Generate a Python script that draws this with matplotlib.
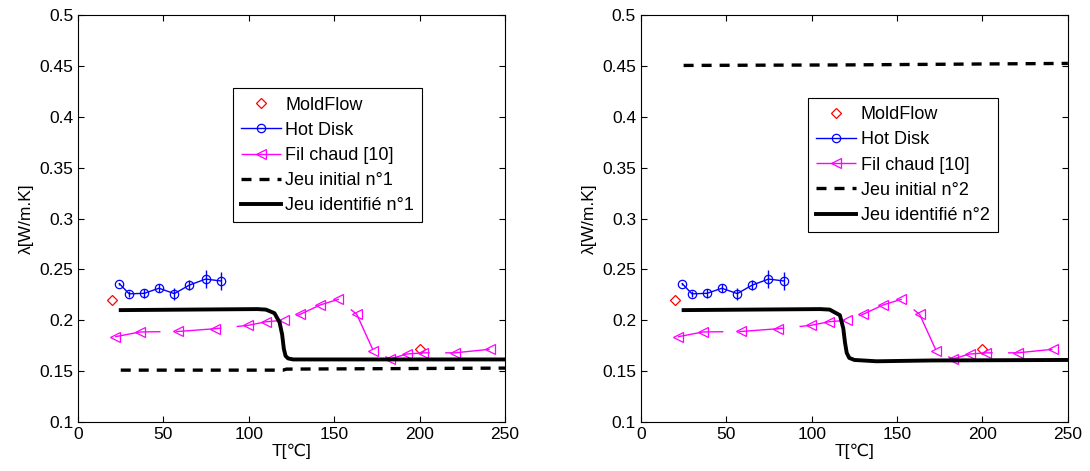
import matplotlib
matplotlib.use("Agg")
import matplotlib.pyplot as plt

plt.rcParams['font.family'] = ['Liberation Sans', 'DejaVu Sans']
plt.rcParams['font.size'] = 12

# data
T_mold = [20, 200]
lam_mold = [0.22, 0.1715]

T_hot = [24.2, 29.9, 38.8, 47.4, 56.4, 65.2, 74.7, 83.9]
lam_hot = [0.236, 0.226, 0.2265, 0.2315, 0.2262, 0.2346, 0.2405, 0.2386]
err_hot = [0.001, 0.003, 0.0045, 0.004, 0.006, 0.005, 0.009, 0.009]

T_fil = [21.7, 36.3, 58.7, 80.2, 99.5, 110.3, 120.6, 130, 141.7, 152.4,
         163.2, 172.9, 182.7, 192.4, 202.2, 220.7, 241]
lam_fil = [0.1838, 0.1885, 0.189, 0.1917, 0.195, 0.1986, 0.2, 0.2058, 0.215, 0.2206,
           0.2058, 0.170, 0.162, 0.1668, 0.168, 0.168, 0.1715]

T_ini1 = [25, 120, 122, 250]
lam_ini1 = [0.151, 0.151, 0.152, 0.153]
T_id1 = [25, 105, 110, 115, 118, 119.5, 120.5, 121.5, 123, 126, 250]
lam_id1 = [0.21, 0.211, 0.2105, 0.207, 0.198, 0.186, 0.172, 0.165, 0.1625, 0.1615, 0.1615]

T_ini2 = [25, 120, 250]
lam_ini2 = [0.4505, 0.451, 0.4525]
T_id2 = [25, 105, 110.5, 116.5, 118.5, 119.5, 120.5, 122, 125, 138, 170, 250]
lam_id2 = [0.21, 0.211, 0.2105, 0.205, 0.192, 0.178, 0.168, 0.163, 0.161, 0.1597, 0.1605, 0.161]

panels = [
    (T_ini1, lam_ini1, T_id1, lam_id1, 'n°1', (0.363, 0.491)),
    (T_ini2, lam_ini2, T_id2, lam_id2, 'n°2', (0.392, 0.467)),
]

fig = plt.figure(figsize=(10.9, 4.71), dpi=100)
axes = [fig.add_axes([0.0716, 0.104, 0.3917, 0.864]),
        fig.add_axes([0.588, 0.104, 0.3917, 0.864])]

for ax, (t_ini, l_ini, t_id, l_id, tag, leg_pos) in zip(axes, panels):
    ax.plot(T_mold, lam_mold, linestyle='none', marker='D', markersize=5,
            markerfacecolor='none', markeredgecolor='red', markeredgewidth=0.9,
            label='MoldFlow')
    ax.errorbar(T_hot, lam_hot, yerr=err_hot, fmt='none', ecolor='blue',
                elinewidth=1, capsize=0)
    ax.plot(T_hot, lam_hot, color='blue', linewidth=1, marker='o', markersize=6,
            markerfacecolor='none', markeredgewidth=0.9, label='Hot Disk')
    ax.plot(T_fil, lam_fil, color='magenta', linewidth=1, dashes=(33, 11),
            marker='<', markersize=7.5, markerfacecolor='none', markeredgewidth=0.9,
            label='Fil chaud [10]')
    ax.plot(t_ini, l_ini, color='black', linewidth=2.4, dashes=(3, 2.4),
            label='Jeu initial ' + tag)
    ax.plot(t_id, l_id, color='black', linewidth=2.8, solid_joinstyle='round',
            label='Jeu identifié ' + tag)

    ax.set_xlim(0, 250)
    ax.set_ylim(0.1, 0.5)
    ax.set_xticks([0, 50, 100, 150, 200, 250])
    ax.set_yticks([0.1, 0.15, 0.2, 0.25, 0.3, 0.35, 0.4, 0.45, 0.5])
    ax.set_yticklabels(['0.1', '0.15', '0.2', '0.25', '0.3', '0.35', '0.4', '0.45', '0.5'])
    ax.tick_params(direction='in', top=True, right=True, length=4, labelsize=12.5)
    ax.set_xlabel('T[℃]', fontsize=12.5, labelpad=1)
    ax.set_ylabel('λ[W/m.K]', fontsize=12.5, labelpad=4)

    leg = ax.legend(loc='lower left', bbox_to_anchor=leg_pos,
                    fontsize=13, frameon=True, fancybox=False, framealpha=1,
                    edgecolor='black', handlelength=2.2, handletextpad=0.25,
                    labelspacing=0.45, borderpad=0.45, borderaxespad=0)
    leg.get_frame().set_linewidth(0.8)

fig.savefig('out.png', dpi=100)
